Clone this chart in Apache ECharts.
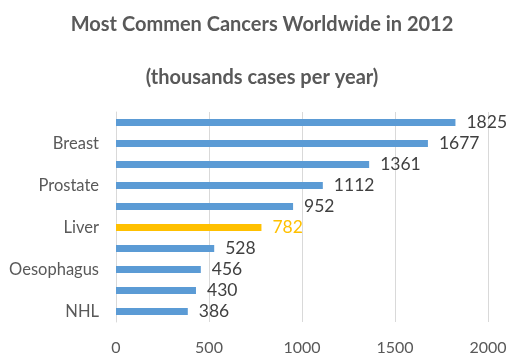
<!DOCTYPE html>
<html><head><meta charset="utf-8">
<script src="https://cdn.jsdelivr.net/npm/echarts@6/dist/echarts.min.js"></script>
<style>html,body{margin:0;padding:0;background:#fff}#c{width:524px;height:364px}</style>
</head><body><div id="c"></div>
<script>
const categories = ['Lung','Breast','Colorectum','Prostate','Stomach','Liver','Cervix','Oesophagus','Bladder','NHL'];
const values = [1825,1677,1361,1112,952,782,528,456,430,386];
const highlight = 'Liver';
const xTicks = [0,500,1000,1500,2000];

const FONT = 'Lato, "Open Sans", sans-serif';
const chart = echarts.init(document.getElementById('c'));
chart.setOption({
  animation:false,
  title:[
    {text:'Most Commen Cancers Worldwide in 2012',left:'center',top:10,textStyle:{fontFamily:FONT,fontSize:20,fontWeight:'bold',color:'#595959'}},
    {text:'(thousands cases per year)',left:'center',top:63,textStyle:{fontFamily:FONT,fontSize:20,fontWeight:'bold',color:'#595959'}}
  ],
  grid:{left:116,right:36,top:112,bottom:42,containLabel:false},
  xAxis:{type:'value',min:xTicks[0],max:xTicks[xTicks.length-1],interval:500,
    axisLine:{show:false},axisTick:{show:false},
    splitLine:{lineStyle:{color:'#d9d9d9',width:1}},
    axisLabel:{fontFamily:FONT,fontSize:16,color:'#595959',margin:18,formatter:(v)=>String(v)}},
  yAxis:{type:'category',data:categories,inverse:true,
    axisLine:{show:true,lineStyle:{color:'#d9d9d9'}},axisTick:{show:false},
    axisLabel:{interval:(i)=>i%2===1,fontFamily:FONT,fontSize:16.5,color:'#595959',margin:17}},
  series:[{type:'bar',barWidth:7,
    data:values.map((v,i)=>({value:v,
      itemStyle:{color:categories[i]===highlight?'#FFC000':'#5B9BD5'},
      label:{color:categories[i]===highlight?'#FFC000':'#404040'}})),
    label:{show:true,position:'right',distance:11,fontFamily:FONT,fontSize:17.5}}]
});
</script></body></html>
